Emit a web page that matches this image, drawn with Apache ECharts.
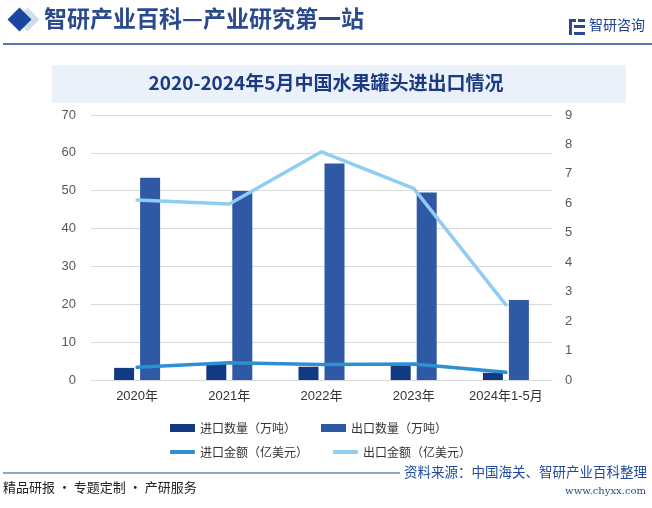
<!DOCTYPE html>
<html>
<head>
<meta charset="utf-8">
<script src="https://cdn.jsdelivr.net/npm/echarts@6/dist/echarts.min.js"></script>
<style>
  html, body { margin: 0; padding: 0; background: #fff; }
  #chart { width: 652px; height: 508px; }
</style>
</head>
<body>
<div id="chart"></div>
<script>
// 年份
const categories = ['2020年', '2021年', '2022年', '2023年', '2024年1-5月'];
// 数量（万吨）
const importQty = [3.2, 4.4, 3.5, 3.8, 1.9];
const exportQty = [53.4, 49.9, 57.2, 49.5, 21.1];
// 金额（亿美元）
const importAmt = [0.43, 0.59, 0.53, 0.54, 0.26];
const exportAmt = [6.11, 5.98, 7.75, 6.51, 2.55];
// 刻度
const leftTicks = { min: 0, max: 70, interval: 10 };
const rightTicks = { min: 0, max: 9, interval: 1 };

const seriesNames = ['进口数量（万吨）', '出口数量（万吨）', '进口金额（亿美元）', '出口金额（亿美元）'];
const colors = ['#123a84', '#2f59a5', '#2e8fd1', '#8fcdf2'];

const myChart = echarts.init(document.getElementById('chart'));

const option = {
  backgroundColor: '#fff',
  animation: false,
  textStyle: { fontFamily: 'Liberation Sans, Arial, "Noto Sans CJK SC", sans-serif' },
  grid: { left: 91, right: 100, top: 115, bottom: 128 },
  legend: [
    {
      data: [seriesNames[0], seriesNames[1]],
      left: 165, top: 417,
      itemWidth: 25, itemHeight: 8, itemGap: 25,
      icon: 'rect',
      textStyle: { fontSize: 12, color: '#333', fontFamily: '"Noto Sans CJK SC", sans-serif' }
    },
    {
      data: [seriesNames[2], seriesNames[3]],
      left: 165, top: 441,
      itemWidth: 25, itemHeight: 4, itemGap: 25,
      icon: 'roundRect',
      textStyle: { fontSize: 12, color: '#333', fontFamily: '"Noto Sans CJK SC", sans-serif' }
    }
  ],
  xAxis: {
    type: 'category',
    data: categories,
    axisTick: { show: false },
    axisLine: { lineStyle: { color: '#d9d9d9' } },
    axisLabel: { interval: 0, color: '#333', fontSize: 13, margin: 10, fontFamily: 'Liberation Sans, "Noto Sans CJK SC", sans-serif' }
  },
  yAxis: [
    {
      type: 'value',
      min: leftTicks.min, max: leftTicks.max, interval: leftTicks.interval,
      axisLabel: { color: '#595959', fontSize: 13, margin: 15 },
      splitLine: { lineStyle: { color: '#d9d9d9' } },
      axisLine: { show: false }
    },
    {
      type: 'value',
      min: rightTicks.min, max: rightTicks.max, interval: rightTicks.interval,
      axisLabel: { color: '#595959', fontSize: 13, margin: 13 },
      splitLine: { show: false },
      axisLine: { show: false }
    }
  ],
  series: [
    {
      name: seriesNames[0], type: 'bar', data: importQty,
      barWidth: 20, barGap: '30%',
      itemStyle: { color: colors[0] }
    },
    {
      name: seriesNames[1], type: 'bar', data: exportQty,
      barWidth: 20, barGap: '30%',
      itemStyle: { color: colors[1] }
    },
    {
      name: seriesNames[2], type: 'line', yAxisIndex: 1, data: importAmt,
      symbol: 'none',
      lineStyle: { width: 3.5, color: colors[2], cap: 'round' },
      itemStyle: { color: colors[2] }
    },
    {
      name: seriesNames[3], type: 'line', yAxisIndex: 1, data: exportAmt,
      symbol: 'none',
      lineStyle: { width: 3.5, color: colors[3], cap: 'round' },
      itemStyle: { color: colors[3] }
    }
  ],
  graphic: [
    // 顶部标题
    { type: 'rect', shape: { x: 19, y: 11, width: 17, height: 17 }, rotation: Math.PI / 4, originX: 27.5, originY: 19.5,
      style: { fill: '#d3dcec' }, z: 1 },
    { type: 'rect', shape: { x: 11, y: 11, width: 17, height: 17 }, rotation: Math.PI / 4, originX: 19.5, originY: 19.5,
      style: { fill: '#1a46a0' }, z: 2 },
    { type: 'text', left: 44, top: 7,
      style: { text: '智研产业百科—产业研究第一站', fill: '#2a4a8c', font: 'bold 23px "Noto Sans CJK SC", sans-serif' } },
    { type: 'line', shape: { x1: 3, y1: 44, x2: 652, y2: 44 }, style: { stroke: '#1f4aa0', lineWidth: 1.5 } },
    // logo
    { type: 'rect', shape: { x: 569, y: 19, width: 7, height: 3 }, style: { fill: '#2a4a8c' } },
    { type: 'rect', shape: { x: 569, y: 19, width: 3, height: 16 }, style: { fill: '#2a4a8c' } },
    { type: 'rect', shape: { x: 578, y: 19, width: 7, height: 3 }, style: { fill: '#2a4a8c' } },
    { type: 'rect', shape: { x: 574, y: 25, width: 11, height: 3 }, style: { fill: '#2a4a8c' } },
    { type: 'rect', shape: { x: 574, y: 32, width: 11, height: 3 }, style: { fill: '#2a4a8c' } },
    { type: 'text', left: 589, top: 18,
      style: { text: '智研咨询', fill: '#1f3f8f', font: '14px "Noto Sans CJK SC", sans-serif' } },
    // 图表标题
    { type: 'rect', shape: { x: 52, y: 65, width: 574, height: 38 }, style: { fill: '#eaf1fb' }, z: -1 },
    { type: 'text', left: 'center', top: 73,
      style: { text: '2020-2024年5月中国水果罐头进出口情况', fill: '#1a3a82', font: 'bold 19px "Noto Sans CJK SC", sans-serif' } },
    // 底部
    { type: 'line', shape: { x1: 3, y1: 473, x2: 400, y2: 473 }, style: { stroke: '#1f4aa0', lineWidth: 1 } },
    { type: 'text', right: 5, top: 465,
      style: { text: '资料来源：中国海关、智研产业百科整理', fill: '#1f4aa0', font: '13.5px "Noto Sans CJK SC", sans-serif' } },
    { type: 'text', left: 3, top: 481,
      style: { text: '精品研报 · 专题定制 · 产研服务', fill: '#222', font: '13px "Noto Sans CJK SC", sans-serif' } },
    { type: 'text', right: 6, top: 486,
      style: { text: 'www.chyxx.com', fill: '#2a4a8c', font: '10px "DejaVu Serif", serif' } }
  ]
};

myChart.setOption(option);
</script>
</body>
</html>
